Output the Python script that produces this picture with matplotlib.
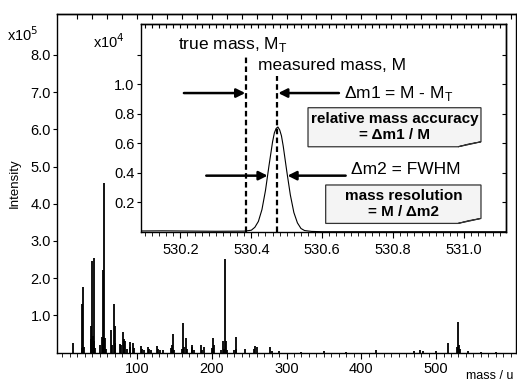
import numpy as np
import matplotlib.pyplot as plt
from matplotlib.patches import Polygon, FancyArrowPatch

plt.rcParams.update({"font.family": ["Liberation Sans", "DejaVu Sans"],
                     "font.size": 10.5, "axes.linewidth": 1.0})

# main spectrum: m/z and intensity (x1e5)
mass = [14, 26, 27, 28, 29, 38, 39, 40, 41, 42, 43, 44, 51, 53, 54, 55, 56, 57,
        58, 65, 66, 69, 70, 71, 77, 78, 81, 82, 84, 86, 90, 91, 95, 96, 106,
        107, 110, 115, 116, 119, 127, 128, 131, 135, 145, 147, 148, 150, 160,
        162, 163, 166, 167, 173, 174, 176, 186, 187, 189, 200, 202, 203, 213,
        215, 216, 218, 219, 220, 230, 232, 233, 245, 256, 258, 260, 278, 280,
        290, 320, 350, 380, 420, 470, 478, 482, 500, 516, 528, 530, 531, 532,
        543, 560, 580]
inten = [0.25, 1.30, 0.12, 1.77, 0.15, 0.70, 0.35, 2.46, 0.45, 2.54, 0.30,
         0.12, 0.20, 0.43, 2.22, 0.40, 4.57, 0.40, 0.10, 0.60, 0.20, 1.30,
         0.70, 0.25, 0.23, 0.20, 0.56, 0.35, 0.30, 0.10, 0.27, 0.15, 0.25,
         0.12, 0.18, 0.10, 0.08, 0.16, 0.10, 0.06, 0.18, 0.10, 0.07, 0.08,
         0.12, 0.20, 0.50, 0.08, 0.10, 0.79, 0.15, 0.39, 0.10, 0.20, 0.15,
         0.06, 0.19, 0.08, 0.16, 0.12, 0.38, 0.20, 0.08, 0.30, 0.10, 2.51,
         0.30, 0.08, 0.08, 0.43, 0.10, 0.10, 0.10, 0.17, 0.14, 0.15, 0.05,
         0.03, 0.02, 0.03, 0.02, 0.08, 0.03, 0.07, 0.05, 0.03, 0.25, 0.15,
         0.81, 0.20, 0.10, 0.05, 0.02, 0.02]

main_xticks = [100, 200, 300, 400, 500]
main_yticks = [1, 2, 3, 4, 5, 6, 7, 8]

# zoomed peak (x1e4)
pk_x = [530.09, 530.15, 530.20, 530.30, 530.38, 530.40, 530.41, 530.42, 530.43,
        530.44, 530.45, 530.46, 530.465, 530.47, 530.475, 530.48, 530.485,
        530.49, 530.50, 530.51, 530.52, 530.53, 530.54, 530.55, 530.57,
        530.60, 530.80, 531.12]
pk_y = [0.005, 0.006, 0.005, 0.003, 0.004, 0.01, 0.03, 0.07, 0.15, 0.28,
        0.45, 0.61, 0.67, 0.70, 0.71, 0.69, 0.65, 0.58, 0.41, 0.25, 0.13,
        0.06, 0.022, 0.008, 0.002, 0.0, 0.0, 0.0]
inset_xticks = [530.2, 530.4, 530.6, 530.8, 531.0]
inset_yticks = [0.2, 0.4, 0.6, 0.8, 1.0, 1.2]
m_true, m_meas = 530.386, 530.473

fig = plt.figure(figsize=(5.17, 3.83), dpi=100)
ax = fig.add_axes([0.1103, 0.0796, 0.8878, 0.8838])
ax.vlines(mass, 0, inten, color="k", lw=1.3)
ax.set_xlim(-7, 607)
ax.set_ylim(0, 9.1)
ax.set_xticks(main_xticks)
ax.set_xticks(np.arange(0, 601, 10), minor=True)
ax.set_yticks(main_yticks)
ax.set_yticklabels([f"{v:.1f}" for v in main_yticks])
ax.tick_params(axis="x", which="major", direction="out", length=4.5, pad=2.5)
ax.tick_params(axis="x", which="minor", direction="out", length=3)
ax.tick_params(axis="y", direction="out", length=3, pad=1.5)
top = ax.secondary_xaxis("top")
top.set_xticks(np.arange(20, 601, 20))
top.tick_params(direction="in", length=3.5, labeltop=False)
ax.text(-0.075, 0.94, r"x10$^5$", transform=ax.transAxes, ha="center",
        va="center", fontsize=10.5)
ax.set_ylabel("Intensity", fontsize=9.5)
ax.yaxis.set_label_coords(-0.078, 0.5)
ax.text(0.995, -0.086, "mass / u", transform=ax.transAxes, ha="right",
        va="bottom", fontsize=9)

# inset
ins = fig.add_axes([0.2727, 0.395, 0.706, 0.5423])
ins.plot(pk_x, pk_y, color="k", lw=0.8)
ins.set_xlim(530.089, 531.118)
ins.set_ylim(0, 1.408)
ins.set_xticks(inset_xticks)
ins.set_xticks(np.arange(530.1, 531.11, 0.02), minor=True)
ins.set_yticks(inset_yticks)
ins.set_yticklabels([f"{v:.1f}" for v in inset_yticks[:-1]] + [""])
ins.tick_params(axis="x", which="major", direction="out", length=4, pad=4)
ins.tick_params(axis="x", which="minor", direction="out", length=3)
ins.tick_params(axis="y", direction="out", length=3, pad=1.5)
itop = ins.secondary_xaxis("top")
itop.set_xticks(np.arange(530.1, 531.11, 0.02))
itop.tick_params(direction="in", length=3, labeltop=False)
iright = ins.secondary_yaxis("right")
iright.set_yticks(inset_yticks)
iright.tick_params(direction="in", length=3, labelright=False)
ins.text(-0.087, 0.915, r"x10$^4$", transform=ins.transAxes, ha="center",
         va="center", fontsize=10.5)

dash = dict(color="k", lw=1.6, ls=(0, (2.5, 1.5)))
ins.plot([m_true, m_true], [0, 1.186], **dash)
ins.plot([m_meas, m_meas], [0, 1.056], **dash)
ins.text(530.193, 1.266, r"true mass, M$_\mathregular{T}$", fontsize=12.5,
         va="center", ha="left")
ins.text(530.42, 1.13, "measured mass, M", fontsize=12.5, va="center",
         ha="left")


def arrow(x0, x1, y):
    ins.add_patch(FancyArrowPatch((x0, y), (x1, y), arrowstyle="-|>",
                                  mutation_scale=13, color="k", lw=1.8,
                                  shrinkA=0, shrinkB=0))


arrow(530.21, m_true - 0.003, 0.94)
arrow(530.647, m_meas + 0.003, 0.94)
arrow(530.273, 530.446, 0.38)
arrow(530.666, 530.502, 0.38)
ins.text(530.661, 0.94, r"Δm1 = M - M$_\mathregular{T}$",
         fontsize=12.5, va="center", ha="left")
ins.text(530.68, 0.425, "Δm2 = FWHM", fontsize=12.5, va="center",
         ha="left")


def note(x0, x1, y0, y1, lines):
    fw, fh = 0.063, 0.024
    page = [(x0, y0), (x0, y1), (x1, y1), (x1, y0 + fh), (x1 - fw, y0)]
    ins.add_patch(Polygon(page, closed=True, transform=ins.transAxes,
                          facecolor="#f4f4f4", edgecolor="#333333", lw=0.9,
                          zorder=4))
    flap = [(x1 - fw, y0), (x1, y0 + fh), (x1 - fw * 0.55, y0 + fh * 0.55)]
    ins.add_patch(Polygon(flap, closed=True, transform=ins.transAxes,
                          facecolor="#d8d8d8", edgecolor="#333333", lw=0.7,
                          zorder=5))
    ins.text((x0 + x1) / 2, (y0 + y1) / 2, lines, transform=ins.transAxes,
             ha="center", va="center", fontsize=11, fontweight="bold",
             linespacing=1.15, zorder=6)


note(0.4576, 0.9315, 0.409, 0.597, "relative mass accuracy\n= Δm1 / M")
note(0.506, 0.9315, 0.040, 0.225, "mass resolution\n= M / Δm2")

fig.savefig("out.png", dpi=100)
